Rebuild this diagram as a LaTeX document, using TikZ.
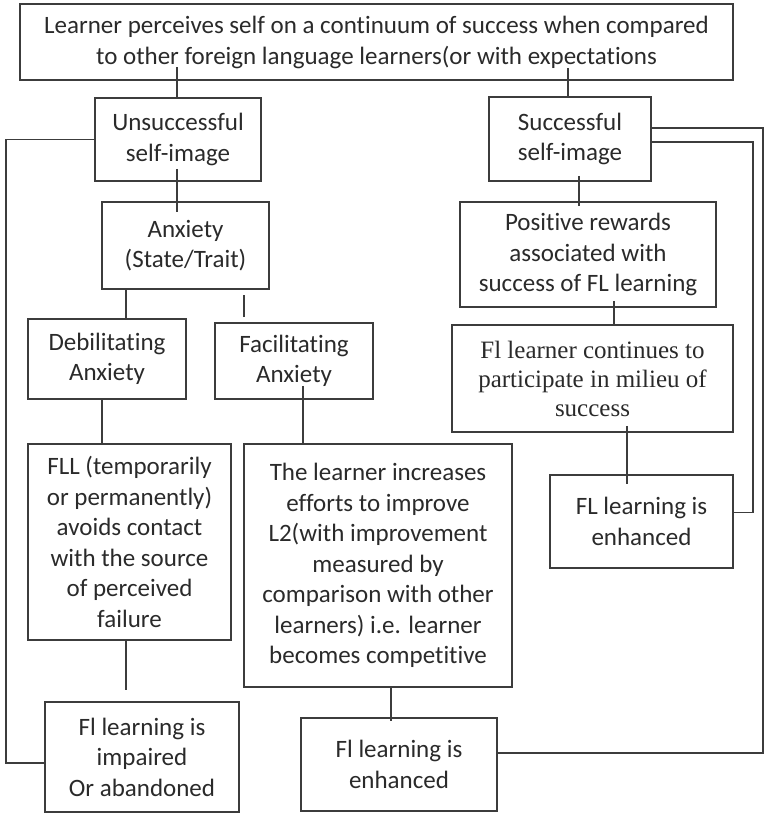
\documentclass[tikz,border=0pt]{standalone}
\usepackage{fontspec}
\setmainfont[Ligatures={NoCommon,NoRare,NoDiscretionary}]{Carlito}
\newfontfamily\serifb{Liberation Serif}
\usetikzlibrary{calc}
\newcommand{\nolig}{\kern0pt }
\definecolor{linec}{HTML}{3C3C3C}
\definecolor{textc}{HTML}{2A2A2A}
\tikzset{
  box/.style={draw=linec, line width=1.9pt, inner sep=0pt, align=center, text=textc,
    font=\fontsize{25}{30.5}\selectfont},
  conn/.style={draw=linec, line width=1.9pt}
}
\begin{document}
\begin{tikzpicture}[x=1pt,y=-1pt]
\useasboundingbox (0,0) rectangle (764,814);

\node[box, minimum width=713pt, minimum height=76pt, font=\fontsize{25}{31}\selectfont] (top) at (376.5,42)
  {Learner perceives self on a continuum of success when compared\\to other foreign language learners(or with expectat\nolig ions};
\node[box, minimum width=166pt, minimum height=83pt] (unsucc) at (178,139.5) {Unsuccessful\\self-image};
\node[box, minimum width=162pt, minimum height=84pt] (succ) at (570,139) {Successful\\self-image};
\node[box, minimum width=167pt, minimum height=87pt] (anx) at (185.5,245.5) {Anxiety\\(State/Trait)};
\node[box, minimum width=158pt, minimum height=80pt] (deb) at (107,359) {Debilitat\nolig ing\\Anxiety};
\node[box, minimum width=158pt, minimum height=76pt] (fac) at (294,361) {Facilitat\nolig ing\\Anxiety};
\node[box, minimum width=203pt, minimum height=196pt] (fll) at (129.5,542)
  {FLL (temporarily\\or permanently)\\avoids contact\\with the source\\of perceived\\failure};
\node[box, minimum width=268pt, minimum height=243pt] (learn) at (378,565.5)
  {The learner increases\\efforts to improve\\L2(with improvement\\measured by\\comparison with other\\learners) i.e. learner\\becomes compet\nolig it\nolig ive};
\node[box, minimum width=194pt, minimum height=110pt] (impaired) at (142,757)
  {Fl learning is\\impaired\\Or abandoned};
\node[box, minimum width=196pt, minimum height=93pt] (enhA) at (399,764.5) {Fl learning is\\enhanced};
\node[box, minimum width=256pt, minimum height=105pt] (pos) at (588,254.5)
  {Posit\nolig ive rewards\\associated with\\success of FL learning};
\node[box, minimum width=281pt, minimum height=107pt, font=\serifb\fontsize{25}{29}\selectfont] (cont) at (592.5,378.5)
  {Fl learner continues to\\participate in milieu of\\success};
\node[box, minimum width=183pt, minimum height=93pt] (enhB) at (641.5,521.5) {FL learning is\\enhanced};

% connectors
\draw[conn] ($(unsucc.north)+(-1,0)$) -- ++(0,-30);
\draw[conn] ($(succ.north)+(-2,0)$) -- ++(0,-28);
\coordinate (u1) at ($(unsucc.south)+(-1,-13)$);
\draw[conn] (u1) -- ($(u1 |- anx.north)+(0,11)$);
\coordinate (a1) at ($(deb.north)+(19,0)$);
\draw[conn] (a1) -- (a1 |- anx.south);
\draw[conn] ($(fac.north)+(-50,-5)$) -- ($(fac.north)+(-50,-27)$);
\coordinate (d1) at ($(deb.south)+(-5,0)$);
\draw[conn] (d1) -- (d1 |- fll.north);
\coordinate (f1) at ($(fac.south)+(9,-14)$);
\draw[conn] (f1) -- (f1 |- learn.north);
\coordinate (l1) at ($(fll.south)+(-3.5,0)$);
\draw[conn] (l1) -- ($(l1 |- impaired.north)+(0,-11)$);
\coordinate (l2) at ($(learn.south)+(13,0)$);
\draw[conn] (l2) -- ($(l2 |- enhA.north)+(0,4)$);
\coordinate (s1) at ($(succ.south)+(9,-6)$);
\draw[conn] (s1) -- ($(s1 |- pos.north)+(0,5)$);
\coordinate (p1) at ($(pos.south)+(26,-7)$);
\draw[conn] (p1) -- (p1 |- cont.north);
\coordinate (c1) at ($(cont.south)+(34.5,-7)$);
\draw[conn] (c1) -- ($(c1 |- enhB.north)+(0,10)$);

% loops
\draw[conn] (unsucc.west) -- ++(-88,0) |- ($(impaired.west)+(0,6)$);
\draw[conn] ($(enhA.east)+(0,-11.5)$) -| ($(succ.east)+(111,-11)$) -- ($(succ.east)+(0,-11)$);
\draw[conn] ($(succ.east)+(0,3)$) -| ($(enhB.east)+(19,-9)$) -- ($(enhB.east)+(0,-9)$);
\end{tikzpicture}
\end{document}
